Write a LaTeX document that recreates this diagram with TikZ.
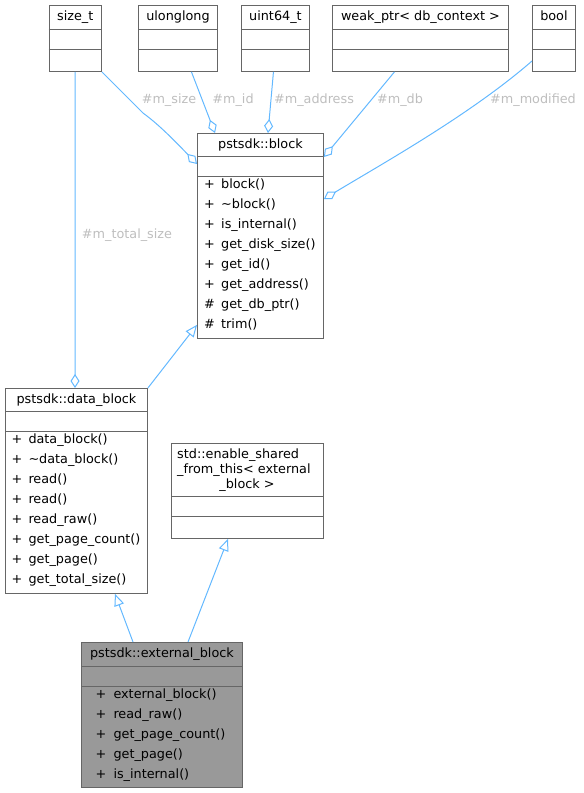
\documentclass[tikz,border=0pt]{standalone}
\usepackage{fontspec}
\setmainfont{DejaVu Sans}
\usepackage{tikz}
\usetikzlibrary{calc, arrows.meta}
\definecolor{edgeblue}{HTML}{63B8FF}
\definecolor{boxgray}{HTML}{666666}
\definecolor{lblgray}{HTML}{BEBEBE}
\definecolor{hlgray}{HTML}{999999}

\begin{document}
\begin{tikzpicture}[x=1pt, y=-1pt,
    every node/.style={font=\fontsize{12.8}{15}\selectfont, inner sep=0pt},
    cls/.style 2 args={draw=boxgray, line width=0.9pt, anchor=north west,
      minimum width=#1, minimum height=#2},
    sep/.style={draw=boxgray, line width=0.9pt},
    txt/.style={text height=9.5pt, text depth=2.5pt, anchor=west},
    hd/.style={text height=9.5pt, text depth=2.5pt},
    lbl/.style={hd, text=lblgray},
    aggr/.style={{Diamond[open, length=14pt, width=9pt]}-, draw=edgeblue, line width=1pt},
    inh/.style={-{Triangle[open, length=12pt, width=10pt]}, draw=edgeblue, line width=1pt}]
  \useasboundingbox (0,0) rectangle (584,793);
  % member types along the top
  \node[cls={52.5pt}{66pt}] (sizet) at (48.5,5) {};
  \node[cls={79pt}{66pt}] (ulong) at (138,5) {};
  \node[cls={68pt}{66pt}] (uint) at (241,5) {};
  \node[cls={176pt}{66pt}] (weakp) at (332,5) {};
  \node[cls={43pt}{66pt}] (boolt) at (532,5) {};
  \foreach \n in {sizet, ulong, uint, weakp, boolt} {
    \draw[sep] ([yshift=-24pt]\n.north west) -- ([yshift=-24pt]\n.north east);
    \draw[sep] ([yshift=-44pt]\n.north west) -- ([yshift=-44pt]\n.north east);
  }
  \node[hd] (sizetname) at ([yshift=-12pt]sizet.north) {size\_t};
  \node[hd] (ulongname) at ([yshift=-12pt]ulong.north) {ulonglong};
  \node[hd] (uintname) at ([yshift=-12pt]uint.north) {uint64\_t};
  \node[hd] (weakpname) at ([yshift=-12pt]weakp.north) {weak\_ptr< db\_context >};
  \node[hd] (boolname) at ([yshift=-12pt]boolt.north) {bool};

  % pstsdk::block
  \node[cls={126pt}{205pt}] (block) at (197,133) {};
  \draw[sep] ([yshift=-23pt]block.north west) -- ([yshift=-23pt]block.north east);
  \draw[sep] ([yshift=-43pt]block.north west) -- ([yshift=-43pt]block.north east);
  \node[hd] (blockname) at ([yshift=-12pt]block.north) {pstsdk::block};
  \foreach \s/\m [count=\i from 0] in {+/block(), +/\textasciitilde block(),
      +/is\_internal(), +/get\_disk\_size(), +/get\_id(), +/get\_address(),
      \#/get\_db\_ptr(), \#/trim()} {
    \node[txt] (blockv\i) at (204,{185+20*\i}) {\s};
    \node[txt] (blockm\i) at (221,{185+20*\i}) {\m};
  }

  % pstsdk::data_block
  \node[cls={142pt}{205pt}] (datab) at (5,388) {};
  \draw[sep] ([yshift=-23pt]datab.north west) -- ([yshift=-23pt]datab.north east);
  \draw[sep] ([yshift=-43pt]datab.north west) -- ([yshift=-43pt]datab.north east);
  \node[hd] (databname) at ([yshift=-12pt]datab.north) {pstsdk::data\_block};
  \foreach \m [count=\i from 0] in {data\_block(), \textasciitilde data\_block(),
      read(), read(), read\_raw(), get\_page\_count(), get\_page(), get\_total\_size()} {
    \node[txt] (databv\i) at (11.5,{440+20*\i}) {+};
    \node[txt] (databm\i) at (28.3,{440+20*\i}) {\m};
  }

  % std::enable_shared_from_this
  \node[cls={152pt}{95pt}] (eshared) at (171,443) {};
  \draw[sep] ([yshift=-53pt]eshared.north west) -- ([yshift=-53pt]eshared.north east);
  \draw[sep] ([yshift=-73pt]eshared.north west) -- ([yshift=-73pt]eshared.north east);
  \node[txt] (esharedl1) at (177,455) {std::enable\_shared};
  \node[txt] (esharedl2) at (177,470) {\_from\_this< external};
  \node[hd] (esharedl3) at (247,485) {\_block >};

  % pstsdk::external_block
  \node[cls={161pt}{145pt}, fill=hlgray] (extb) at (81,642) {};
  \draw[sep] ([yshift=-24pt]extb.north west) -- ([yshift=-24pt]extb.north east);
  \draw[sep] ([yshift=-44pt]extb.north west) -- ([yshift=-44pt]extb.north east);
  \node[hd] (extbname) at ([yshift=-12pt]extb.north) {pstsdk::external\_block};
  \foreach \m [count=\i from 0] in {external\_block(), read\_raw(),
      get\_page\_count(), get\_page(), is\_internal()} {
    \node[txt] (extbv\i) at (95.5,{695+20*\i}) {+};
    \node[txt] (extbm\i) at (113.3,{695+20*\i}) {\m};
  }

  % aggregation edges
  \draw[aggr] ([yshift=-31pt]block.north west) .. controls (172,138) and (158,124) .. (143,113) -- (sizet.south east);
  \draw[aggr] ([xshift=18pt]block.north west) -- ([xshift=13.5pt]ulong.south);
  \draw[aggr] ([xshift=71pt]block.north west) -- ([xshift=-2pt]uint.south);
  \draw[aggr] ([yshift=-24pt]block.north east) -- ([xshift=-26pt]weakp.south);
  \draw[aggr] ([yshift=-66pt]block.north east) .. controls (380,165) and (470,115) .. ([yshift=-56pt]boolt.north west);
  \draw[aggr] ([xshift=70pt]datab.north west) -- (sizet.south);
  % edge labels
  \node[lbl] (lsize) at (169,100) {\#m\_size};
  \node[lbl] (lid) at (233,100) {\#m\_id};
  \node[lbl] (laddr) at (314,100) {\#m\_address};
  \node[lbl] (ldb) at (400,100) {\#m\_db};
  \node[lbl] (lmod) at (533,100) {\#m\_modified};
  \node[lbl] (ltot) at (127,235) {\#m\_total\_size};

  % inheritance edges
  \draw[inh] (datab.north east) -- ([yshift=14pt]block.south west);
  \draw[inh] ([xshift=52pt]extb.north west) -- ([xshift=110pt]datab.south west);
  \draw[inh] ([xshift=107pt]extb.north west) -- ([xshift=57pt]eshared.south west);
\end{tikzpicture}
\end{document}
